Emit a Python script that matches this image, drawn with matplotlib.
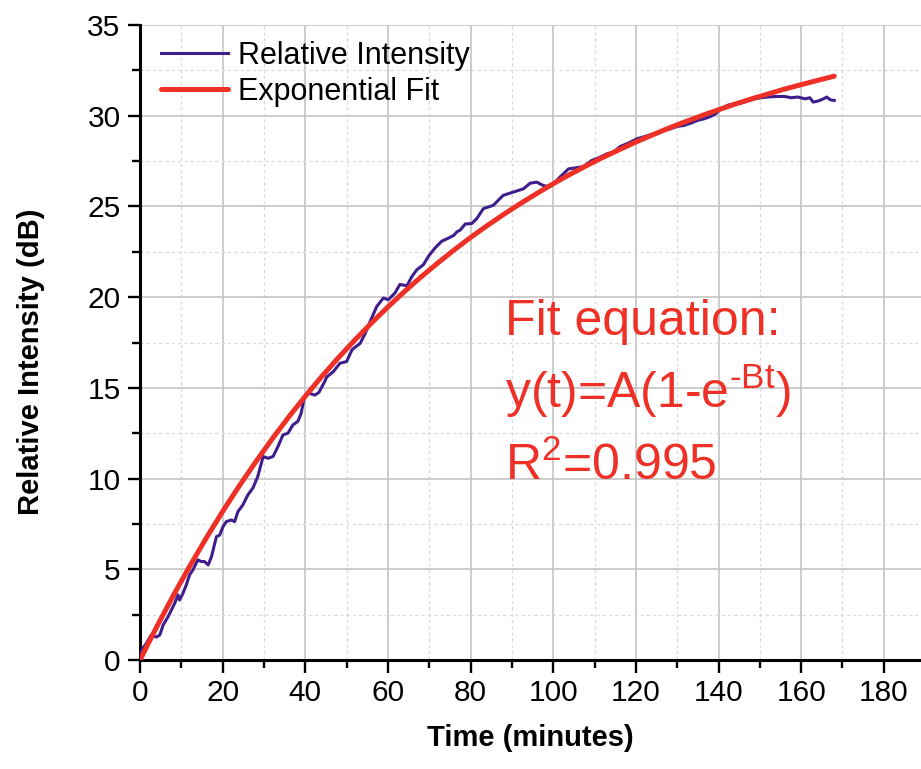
"""Relative intensity vs time with exponential fit."""
import matplotlib
matplotlib.use("Agg")
import matplotlib.pyplot as plt
from matplotlib.ticker import MultipleLocator

plt.rcParams["font.family"] = ["Liberation Sans", "DejaVu Sans"]
plt.rcParams["mathtext.fontset"] = "custom"
plt.rcParams["mathtext.rm"] = "Liberation Sans"

time_min = [0.0, 0.5, 1.5, 2.7, 3.5, 4.0, 4.8, 5.6, 6.8, 7.6, 8.4, 9.2, 9.6,
            10.4, 11.2, 12.0, 12.8, 14.0, 14.8, 15.6, 16.5, 17.3, 18.5, 19.3,
            20.1, 20.9, 22.1, 22.9, 23.7, 24.9, 26.1, 27.3, 28.5, 29.8, 31.0,
            32.2, 33.4, 34.6, 35.8, 37.0, 38.2, 39.0, 39.8, 41.0, 42.3, 43.3,
            44.7, 45.2, 46.8, 48.4, 50.0, 51.3, 53.3, 54.5, 55.7, 57.3, 58.9,
            60.1, 61.7, 62.9, 64.6, 65.8, 67.0, 68.6, 69.8, 71.4, 73.0, 74.7,
            75.9, 76.7, 77.5, 78.7, 80.3, 81.5, 83.1, 84.3, 85.5, 86.7, 87.9,
            89.1, 91.2, 92.8, 94.4, 96.0, 97.6, 98.8, 100.0, 101.6, 103.7,
            105.3, 107.3, 109.3, 111.3, 113.0, 114.6, 116.2, 118.2, 120.3,
            122.3, 124.3, 126.4, 128.4, 130.0, 131.6, 133.3, 134.9, 136.5,
            138.1, 139.3, 140.6, 142.2, 143.8, 145.5, 147.1, 148.7, 150.3,
            151.9, 153.9, 156.0, 157.6, 159.2, 160.9, 162.1, 162.9, 164.1,
            165.4, 166.2, 167.0, 168.0]
intensity = [0.2, 0.6, 0.9, 1.38, 1.3, 1.27, 1.38, 1.93, 2.39, 2.76, 3.13, 3.59, 3.31,
             3.68, 4.14, 4.69, 4.97, 5.52, 5.43, 5.43, 5.24, 5.70, 6.80, 6.89,
             7.36, 7.63, 7.72, 7.63, 8.18, 8.55, 9.10, 9.47, 10.11, 11.22, 11.12,
             11.22, 11.77, 12.41, 12.50, 12.96, 13.15, 13.6, 14.52, 14.7, 14.6, 14.75,
             15.35, 15.6, 15.9, 16.36, 16.45, 17.1, 17.46, 18.0, 18.66, 19.49, 19.95,
             19.86, 20.23, 20.7, 20.63, 21.14, 21.51, 21.79, 22.25, 22.71, 23.08, 23.26,
             23.4, 23.6, 23.7, 24.03, 24.06, 24.33, 24.88, 24.97, 25.06, 25.34, 25.61,
             25.7, 25.85, 25.97, 26.28, 26.34, 26.15, 26.1, 26.24, 26.61, 27.07,
             27.12, 27.2, 27.53, 27.71, 27.9, 27.99, 28.3, 28.49, 28.73,
             28.86, 29.0, 29.15, 29.28, 29.41, 29.46, 29.59, 29.74, 29.83,
             29.96, 30.11, 30.38, 30.57, 30.66, 30.7, 30.81, 30.93, 30.99,
             31.03, 31.06, 31.06, 30.99, 31.03, 30.93, 30.99, 30.75, 30.81,
             30.93, 31.03, 30.88, 30.84]

# --- fitted curve ---
fit_time = [0, 4, 8, 12, 16, 20, 24, 28, 32, 36, 40, 44, 48, 52, 56, 60, 64, 68,
            72, 76, 80, 84, 88, 92, 96, 100, 104, 108, 112, 116, 120, 124, 128,
            132, 136, 140, 144, 148, 152, 156, 160, 164, 168]
fit_value = [0.0, 1.81, 3.53, 5.16, 6.71, 8.19, 9.59, 10.92, 12.19, 13.40, 14.54,
             15.63, 16.66, 17.64, 18.57, 19.46, 20.31, 21.11, 21.87, 22.60, 23.29,
             23.94, 24.56, 25.15, 25.71, 26.25, 26.76, 27.24, 27.70, 28.13, 28.55,
             28.94, 29.32, 29.67, 30.01, 30.33, 30.64, 30.93, 31.20, 31.47, 31.71,
             31.95, 32.18]

purple = "#3d1e8c"
red = "#ee3026"

fig = plt.figure(figsize=(9.21, 7.69), dpi=100)
ax = fig.add_axes([0.152, 0.1417, 0.848, 0.8258])

ax.plot(time_min, intensity, color=purple, lw=2.2, label="Relative Intensity", zorder=3)
ax.plot(fit_time, fit_value, color=red, lw=3.6, label="Exponential Fit",
        solid_capstyle="round", zorder=4)

ax.set_xlim(0, 189)
ax.set_ylim(0, 35)
ax.xaxis.set_major_locator(MultipleLocator(20))
ax.xaxis.set_minor_locator(MultipleLocator(10))
ax.yaxis.set_major_locator(MultipleLocator(5))
ax.yaxis.set_minor_locator(MultipleLocator(2.5))

ax.grid(True, which="major", color="#c4c4c4", lw=1.2)
ax.grid(True, which="minor", color="#dadada", lw=0.9, ls=(0, (2.5, 2.5)))
ax.set_axisbelow(True)

for s in ["top", "right"]:
    ax.spines[s].set_visible(False)
for s in ["left", "bottom"]:
    ax.spines[s].set_linewidth(2.2)
ax.tick_params(which="major", direction="out", length=9, width=1.7,
               labelsize=21.5, pad=5)
ax.tick_params(which="minor", direction="out", length=5.5, width=1.7)

ax.set_xlabel("Time (minutes)", fontsize=21, fontweight="bold", labelpad=12)
ax.set_ylabel("Relative Intensity (dB)", fontsize=21, fontweight="bold")
ax.yaxis.set_label_coords(-0.122, 0.47)

ax.legend(loc="upper left", bbox_to_anchor=(0.027, 0.975), frameon=False,
          fontsize=22, handlelength=2.2, handletextpad=0.33, labelspacing=0.2,
          borderpad=0, borderaxespad=0)

ax.text(88.4, 17.9, "Fit equation:", color=red, fontsize=36, va="baseline")
ax.text(88.4, 13.9, "y(t)=A(1-e$^{\\mathregular{\u2010Bt}}$)", color=red,
        fontsize=36, va="baseline")
ax.text(88.4, 9.93, r"R$^{\mathregular{2}}$=0.995", color=red, fontsize=36, va="baseline")

fig.savefig("out.png", dpi=100)
